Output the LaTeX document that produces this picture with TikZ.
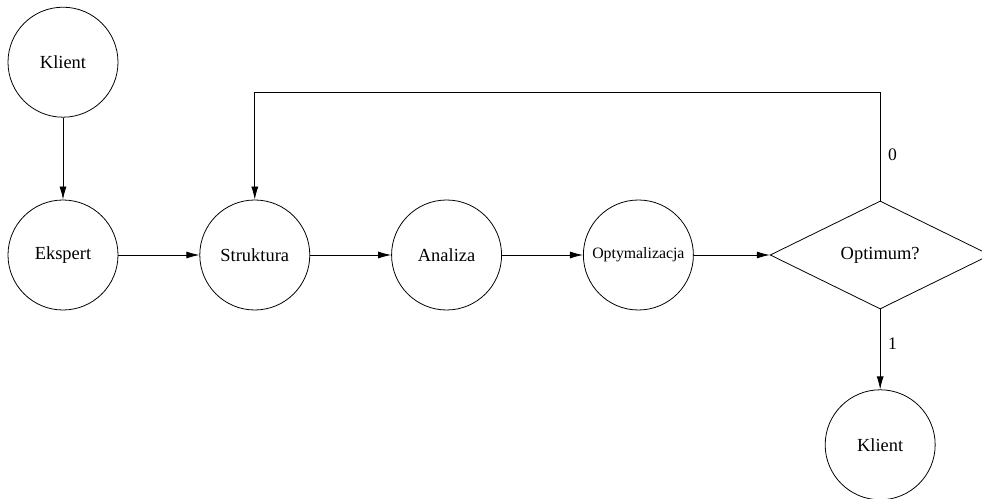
\documentclass[tikz,border=0pt]{standalone}
\usepackage{fontspec}
\setmainfont{Liberation Serif}
\usepackage{tikz}
\usetikzlibrary{shapes.geometric,arrows.meta,positioning}

\tikzset{
  state/.style={circle, draw, inner sep=0pt, minimum size=2.2cm, font=\fontsize{10.5}{12}\selectfont},
  test/.style={diamond, draw, inner sep=0pt, minimum width=4.4cm, minimum height=2.16cm, font=\fontsize{10.5}{12}\selectfont},
  arr/.style={-{Latex[length=2.6mm,width=1.4mm]}},
}

\begin{document}
\begin{tikzpicture}[node distance=1.62cm, line width=0.45pt]
\useasboundingbox (0,0) rectangle (19.64,9.96);
\clip (0,0) rectangle (19.64,9.96);
\node[state] (ekspert) at (1.26,4.86) {Ekspert};
\node[state, above=1.64cm of ekspert] (klient) {Klient};
\node[state, right=of ekspert] (struktura) {Struktura};
\node[state, right=of struktura] (analiza) {Analiza};
\node[state, right=of analiza, font=\fontsize{9}{10}\selectfont] (optym) {Optymalizacja};
\node[test, right=1.52cm of optym] (optimum) {Optimum?};
\node[state, below=1.6cm of optimum] (klient2) {Klient};

\draw[arr] (klient) -- (ekspert);
\draw[arr] (ekspert) -- (struktura);
\draw[arr] (struktura) -- (analiza);
\draw[arr] (analiza) -- (optym);
\draw[arr] (optym) -- (optimum);
\draw[arr] (optimum.north) -- node[pos=0.42, right=1pt] {0} ++(0,2.16) -| (struktura.north);
\draw[arr] (optimum) -- node[pos=0.43, right=1pt] {1} (klient2);
\end{tikzpicture}
\end{document}
